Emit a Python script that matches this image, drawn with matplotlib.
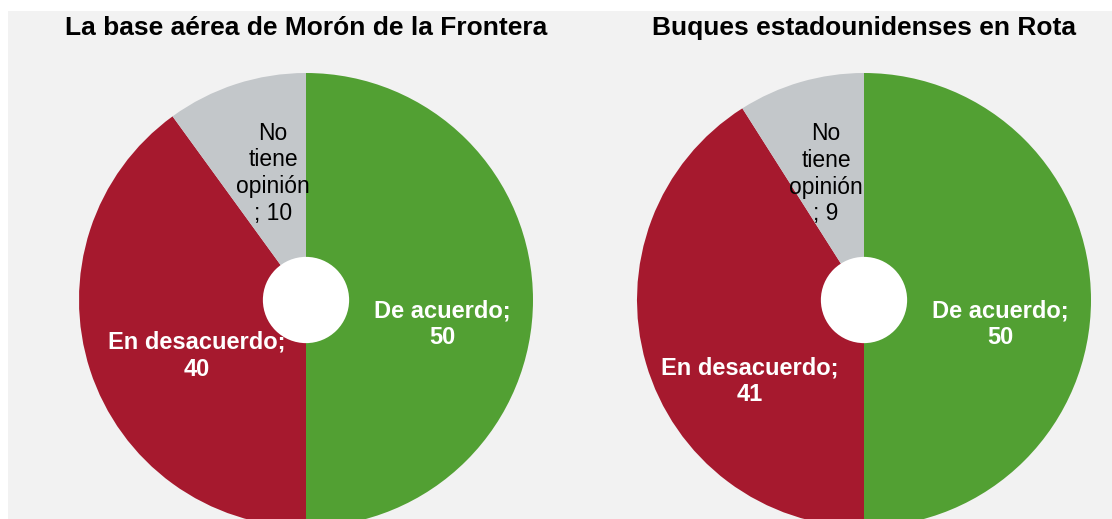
import numpy as np
import matplotlib
matplotlib.use("Agg")
import matplotlib.pyplot as plt
from matplotlib.patches import Rectangle, Circle

plt.rcParams['font.family'] = ['Liberation Sans', 'DejaVu Sans']

# survey results, one pie per question
titles = ["La base aérea de Morón de la Frontera", "Buques estadounidenses en Rota"]
categories = ["De acuerdo", "En desacuerdo", "No tiene opinión"]
label_text = ["De acuerdo;", "En desacuerdo;", "No\ntiene\nopinión\n;"]
values_moron = [50, 40, 10]
values_rota = [50, 41, 9]

colors = ["#52a033", "#a6192e", "#c3c7ca"]
text_colors = ["white", "white", "black"]
text_weights = ["bold", "bold", "normal"]
text_sizes = [17, 17, 16.5]

W, H = 1112, 519
R_PX = 227  # pie radius in pixels
centers_px = [(306, 300), (864, 300)]
# nudges for the data labels (in radius units), per pie
nudges = [
    [(0.0, -0.105), (0.09, -0.06), (0.04, -0.012)],
    [(0.0, -0.105), (0.075, -0.19), (0.0, -0.02)],
]

fig = plt.figure(figsize=(W / 100, H / 100), dpi=100, facecolor="white")
fig.patches.append(Rectangle((8 / W, 0), 1 - 8 / W, (H - 11) / H,
                             transform=fig.transFigure, facecolor="#f2f2f2",
                             edgecolor="none", zorder=-10))

half = 245
for k, vals in enumerate([values_moron, values_rota]):
    cx, cy = centers_px[k]
    cy_b = H - cy
    ax = fig.add_axes([(cx - half) / W, (cy_b - half) / H, 2 * half / W, 2 * half / H])
    ax.pie(vals, colors=colors, startangle=90, counterclock=False, radius=1,
           wedgeprops=dict(linewidth=0), frame=True)
    ax.set_xlim(-half / R_PX, half / R_PX)
    ax.set_ylim(-half / R_PX, half / R_PX)
    ax.set_aspect("auto")
    ax.axis("off")
    ax.add_patch(Circle((0, 0), 0.19, facecolor="white", edgecolor="none", zorder=5))

    # data labels at slice mid-angles
    total = float(sum(vals))
    start = 90.0
    for i, v in enumerate(vals):
        span = 360.0 * v / total
        mid = np.deg2rad(start - span / 2)
        start -= span
        x = 0.6 * np.cos(mid) + nudges[k][i][0]
        y = 0.6 * np.sin(mid) + nudges[k][i][1]
        sep = "\n" if i < 2 else " "
        ax.text(x, y, f"{label_text[i]}{sep}{v}", ha="center", va="center",
                fontsize=text_sizes[i], color=text_colors[i], fontweight=text_weights[i],
                linespacing=1.2, zorder=6)

    fig.text(cx / W, (H - 28) / H, titles[k], ha="center", va="center",
             fontsize=19, fontweight="bold", color="black")

fig.savefig("out.png", dpi=100, facecolor=fig.get_facecolor())
